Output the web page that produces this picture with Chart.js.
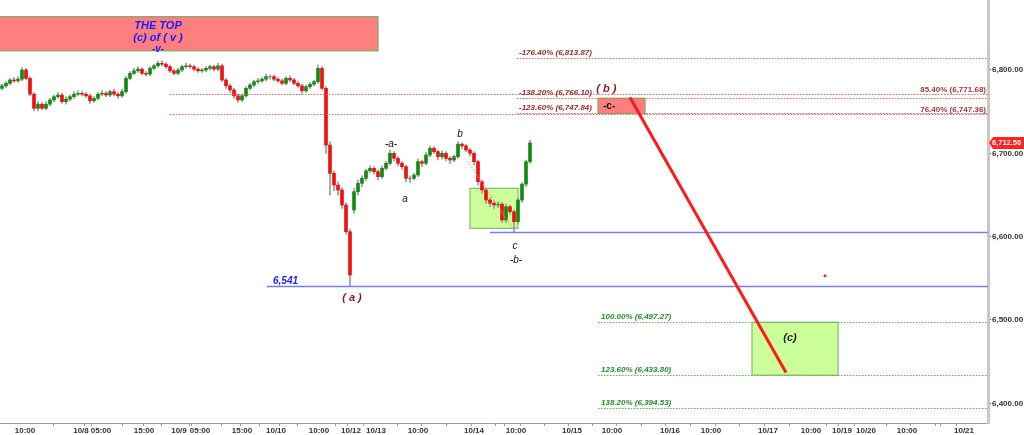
<!DOCTYPE html>
<html>
<head>
<meta charset="utf-8">
<script src="https://cdn.jsdelivr.net/npm/chart.js@4/dist/chart.umd.min.js"></script>
<style>
  html, body { margin: 0; padding: 0; background: #fff; }
  #wrap { width: 1024px; height: 435px; position: relative; }
</style>
</head>
<body>
<div id="wrap"><canvas id="chart"></canvas></div>
<script>
// candle data (one candle per slot)
const opens = [
  6778,6781,6784,6788,6787,6789,6800,6790,6771,6754,
  6759,6754,6759,6764,6768,6770,6762,6765,6768,6771,
  6772,6771,6769,6763,6766,6771,6772,6770,6774,6771,
  6769,6774,6790,6796,6799,6801,6796,6795,6802,6805,
  6808,6807,6804,6799,6796,6800,6804,6805,6804,6801,
  6799,6800,6802,6804,6801,6805,6788,6781,6776,6769,
  6764,6769,6778,6782,6786,6787,6789,6792,6792,6789,
  6787,6784,6790,6788,6784,6781,6775,6780,6783,6786,
  6802,6778,6710,6676,6662,6656,6638,6606,6632,6654,
  6664,6670,6679,6682,6678,6672,6682,6688,6700,6694,
  6688,6684,6670,6670,6674,6690,6688,6698,6706,6702,
  6696,6700,6694,6692,6696,6711,6709,6704,6700,6690,
  6666,6656,6644,6640,6638,6639,6620,6636,6630,6618,
  6644,6663,6690];
const highs = [
  6783,6786,6790,6791,6792,6803,6802,6792,6773,6762,
  6761,6762,6766,6770,6773,6772,6768,6770,6774,6775,
  6774,6773,6771,6768,6773,6775,6774,6776,6777,6773,
  6777,6792,6798,6802,6804,6803,6798,6804,6807,6811,
  6811,6809,6806,6801,6802,6806,6808,6807,6806,6803,
  6802,6804,6806,6806,6808,6807,6790,6783,6778,6771,
  6771,6780,6784,6788,6790,6791,6795,6794,6794,6791,
  6789,6792,6793,6790,6786,6783,6782,6785,6788,6806,
  6804,6780,6714,6679,6666,6659,6641,6609,6658,6668,
  6673,6681,6685,6684,6680,6685,6690,6704,6702,6696,
  6690,6686,6673,6676,6693,6692,6701,6709,6708,6704,
  6703,6702,6696,6698,6714,6713,6711,6706,6702,6692,
  6668,6658,6647,6643,6642,6641,6639,6638,6632,6646,
  6665,6692,6716];
const lows = [
  6776,6779,6782,6785,6785,6787,6788,6769,6751,6751,
  6752,6752,6757,6762,6766,6760,6759,6763,6766,6769,
  6769,6767,6760,6761,6764,6769,6768,6768,6769,6766,
  6767,6772,6788,6794,6797,6794,6793,6793,6800,6803,
  6805,6802,6797,6794,6794,6798,6802,6802,6799,6797,
  6797,6798,6800,6799,6799,6786,6778,6773,6766,6761,
  6762,6767,6776,6780,6784,6785,6787,6789,6787,6785,
  6782,6782,6786,6782,6779,6772,6773,6778,6781,6784,
  6776,6700,6650,6655,6650,6634,6603,6541,6628,6650,
  6660,6667,6677,6675,6668,6670,6680,6686,6691,6685,
  6681,6666,6665,6668,6672,6684,6686,6696,6700,6692,
  6693,6691,6688,6690,6694,6706,6702,6697,6686,6662,
  6652,6640,6636,6634,6635,6617,6617,6627,6606,6615,
  6641,6660,6688];
const closes = [
  6781,6784,6788,6787,6789,6800,6790,6771,6754,6759,
  6754,6759,6764,6768,6770,6762,6765,6768,6771,6772,
  6771,6769,6763,6766,6771,6772,6770,6774,6771,6769,
  6774,6790,6796,6799,6801,6796,6795,6802,6805,6808,
  6807,6804,6799,6796,6800,6804,6805,6804,6801,6799,
  6800,6802,6804,6801,6805,6788,6781,6776,6769,6764,
  6769,6778,6782,6786,6787,6789,6792,6792,6789,6787,
  6784,6790,6788,6784,6781,6775,6780,6783,6786,6802,
  6778,6710,6676,6662,6656,6638,6606,6554,6654,6664,
  6670,6679,6682,6678,6672,6682,6688,6700,6694,6688,
  6684,6670,6670,6674,6690,6688,6698,6706,6702,6696,
  6700,6694,6692,6696,6711,6709,6704,6700,6690,6666,
  6656,6644,6640,6638,6639,6620,6636,6630,6618,6644,
  6663,6690,6712.5];

// x axis labels and where they sit (in candle slots)
const xTickLabels = ['10:00','10/8','05:00','15:00','10/9','05:00','15:00','10/10','10:00','10/12','10/13','10:00',
  '10/14','10:00','10/15','10:00','10/16','10:00','10/17','10:00','10/19','10/20','10:00','10/21'];
const xTickSlots = [6.25,20.25,25.25,36,44.75,50,60.5,69,79.75,87.75,94,104.5,
  118.5,129,143,153,167.5,177.75,192,202.75,210.5,216.5,226.75,241];
const xMinorSlots = [11,31,40.5,55,65,74.5,99,111.5,124,136,148,160,172.5,185,197,222,233,237];
const yTicks = [6400, 6500, 6600, 6700, 6800];

// fib levels and other price levels
const fibRetraceLevels = [6771.68, 6747.36];
const fibRetraceNames = ['85.40%', '76.40%'];
const fibExtLevels = [6813.87, 6766.10, 6747.84];
const fibExtNames = ['-176.40%', '-138.20%', '-123.60%'];
const fibTargetLevels = [6497.27, 6433.80, 6394.53];
const fibTargetNames = ['100.00%', '123.60%', '138.20%'];
const supportLevels = [6541, 6605];
const lastPrice = 6712.5;

function fmt(v, d) {
    return v.toLocaleString('en-US', { minimumFractionDigits: d, maximumFractionDigits: d });
}

const FONT = '"Liberation Sans", Arial, sans-serif';

const bodyData = closes.map((c, i) => ({ x: i + 0.5, y: [opens[i], c] }));
const wickData = closes.map((c, i) => ({ x: i + 0.5, y: [lows[i], highs[i]] }));
const bodyColors = closes.map((c, i) => c >= opens[i] ? '#138a13' : '#f01010');

// draws the boxes, levels and wave labels
const annotations = {
    id: 'annotations',
    beforeDatasetsDraw(chart) {
        const ctx = chart.ctx, x = chart.scales.x, y = chart.scales.y;
        const box = (x1, x2, v1, v2, fill, stroke) => {
            const l = x.getPixelForValue(x1), r = x.getPixelForValue(x2);
            const t = y.getPixelForValue(v1), b = y.getPixelForValue(v2);
            ctx.fillStyle = fill;
            ctx.fillRect(l, t, r - l, b - t);
            ctx.strokeStyle = stroke;
            ctx.lineWidth = 1.2;
            ctx.strokeRect(l, t, r - l, b - t);
        };
        ctx.save();
        // the top
        box(-1, 94.5, 6864, 6823, '#ff7f7f', '#7faa5f');
        // green zones
        box(117.5, 129.5, 6658, 6610, '#ccff99', '#8ab86a');
        box(188, 209.5, fibTargetLevels[0], fibTargetLevels[1], '#ccff99', '#8ab86a');
        // -c- box
        box(149.5, 161.25, fibExtLevels[1], fibExtLevels[2], '#ff7f7f', '#7faa5f');
        ctx.restore();
    },
    afterDatasetsDraw(chart) {
        const ctx = chart.ctx, x = chart.scales.x, y = chart.scales.y;
        const right = chart.chartArea.right;
        const hline = (from, v, color, dash, w) => {
            const py = Math.round(y.getPixelForValue(v)) + 0.5;
            ctx.beginPath();
            ctx.setLineDash(dash);
            ctx.strokeStyle = color;
            ctx.lineWidth = w;
            ctx.moveTo(x.getPixelForValue(from), py);
            ctx.lineTo(right, py);
            ctx.stroke();
            ctx.setLineDash([]);
        };
        const text = (s, xv, v, color, font, align) => {
            ctx.font = font;
            ctx.fillStyle = color;
            ctx.textAlign = align || 'center';
            ctx.textBaseline = 'middle';
            ctx.fillText(s, x.getPixelForValue(xv), y.getPixelForValue(v));
        };
        ctx.save();

        // red fib lines
        fibRetraceLevels.forEach((v, i) => {
            hline(42.5, v, '#d46a6a', [1.5, 1.5], 1);
            ctx.font = 'bold 8px ' + FONT;
            ctx.fillStyle = '#a03a3a';
            ctx.textAlign = 'right';
            ctx.textBaseline = 'alphabetic';
            ctx.fillText(fibRetraceNames[i] + ' (' + fmt(v, 2) + ')', right - 2, y.getPixelForValue(v) - 2);
        });
        fibExtLevels.forEach((v, i) => {
            hline(129.25, v, '#d46a6a', [1.5, 1.5], 1);
            ctx.font = 'italic bold 8px ' + FONT;
            ctx.fillStyle = '#9a2a2a';
            ctx.textAlign = 'left';
            ctx.textBaseline = 'alphabetic';
            ctx.fillText(fibExtNames[i] + ' (' + fmt(v, 2) + ')', x.getPixelForValue(129.75), y.getPixelForValue(v) - 3);
        });
        // green fib lines
        fibTargetLevels.forEach((v, i) => {
            hline(149.5, v, '#5bb05b', [1.5, 1.5], 1);
            ctx.font = 'italic bold 8px ' + FONT;
            ctx.fillStyle = '#2a8a2a';
            ctx.textAlign = 'left';
            ctx.textBaseline = 'alphabetic';
            ctx.fillText(fibTargetNames[i] + ' (' + fmt(v, 2) + ')', x.getPixelForValue(150.25), y.getPixelForValue(v) - 3);
        });
        // blue support lines
        hline(66.75, supportLevels[0], '#7c7cf2', [], 1.3);
        hline(122.5, supportLevels[1], '#7c7cf2', [], 1.3);
        ctx.font = 'italic bold 10px ' + FONT;
        ctx.fillStyle = '#2222ee';
        ctx.textAlign = 'left';
        ctx.textBaseline = 'alphabetic';
        ctx.fillText(fmt(supportLevels[0], 0), x.getPixelForValue(68.25), y.getPixelForValue(supportLevels[0]) - 2);

        // dotted trend inside first green box
        ctx.beginPath();
        ctx.setLineDash([1.5, 1.5]);
        ctx.strokeStyle = '#e09090';
        ctx.lineWidth = 1;
        ctx.moveTo(x.getPixelForValue(117), y.getPixelForValue(6690));
        ctx.lineTo(x.getPixelForValue(128.75), y.getPixelForValue(6606));
        ctx.stroke();
        ctx.setLineDash([]);

        // projected leg down
        ctx.beginPath();
        ctx.strokeStyle = '#ff1a1a';
        ctx.lineWidth = 3;
        ctx.moveTo(x.getPixelForValue(157.5), y.getPixelForValue(6767));
        ctx.lineTo(x.getPixelForValue(196.5), y.getPixelForValue(6437));
        ctx.stroke();

        // small red dot
        ctx.beginPath();
        ctx.fillStyle = '#ff2020';
        ctx.arc(x.getPixelForValue(206.25), y.getPixelForValue(6553), 1.5, 0, Math.PI * 2);
        ctx.fill();

        // labels
        const wave = 'italic bold 11px ' + FONT;
        text('THE TOP', 39.5, 6853, '#1a1aff', 'italic bold 11px ' + FONT);
        text('(c) of ( v )', 39.5, 6838.5, '#1a1aff', 'italic bold 11px ' + FONT);
        text('-v-', 39.5, 6825, '#1a1aff', 'italic bold 10px ' + FONT);
        text('( a )', 88, 6526, '#8b1a1a', wave);
        text('-a-', 97.75, 6711, '#111', 'italic 10px ' + FONT);
        text('a', 101.25, 6645, '#111', 'italic 10px ' + FONT);
        text('b', 115, 6723, '#111', 'italic 10px ' + FONT);
        text('c', 128.75, 6588, '#111', 'italic 10px ' + FONT);
        text('-b-', 129, 6572, '#111', 'italic 10px ' + FONT);
        text('( b )', 151.6, 6777, '#8b1a1a', wave);
        text('-c-', 150.75, 6757, '#111', 'bold 10px ' + FONT, 'left');
        text('(c)', 197.5, 6478, '#222', wave);
        ctx.restore();
    },
    afterDraw(chart) {
        // last price tag on the axis
        const ctx = chart.ctx, y = chart.scales.y;
        const py = y.getPixelForValue(lastPrice);
        const l = chart.chartArea.right + 1;
        ctx.save();
        ctx.fillStyle = '#ff2424';
        ctx.beginPath();
        ctx.moveTo(l, py);
        ctx.lineTo(l + 4, py - 6);
        ctx.lineTo(1024, py - 6);
        ctx.lineTo(1024, py + 6);
        ctx.lineTo(l + 4, py + 6);
        ctx.closePath();
        ctx.fill();
        ctx.fillStyle = '#fff';
        ctx.font = 'bold 7.5px ' + FONT;
        ctx.textAlign = 'left';
        ctx.textBaseline = 'middle';
        ctx.fillText(fmt(lastPrice, 2), l + 3, py + 0.5);
        ctx.restore();
    }
};

new Chart(document.getElementById('chart'), {
    type: 'bar',
    data: {
        datasets: [{
            label: 'body',
            data: bodyData,
            backgroundColor: bodyColors,
            borderWidth: 0,
            barThickness: 3,
            grouped: false
        }, {
            label: 'wick',
            data: wickData,
            backgroundColor: '#9a9a9a',
            borderWidth: 0,
            barThickness: 1,
            grouped: false
        }]
    },
    options: {
        responsive: true,
        maintainAspectRatio: false,
        animation: false,
        layout: { padding: 0 },
        plugins: {
            legend: { display: false },
            tooltip: { enabled: false }
        },
        scales: {
            x: {
                type: 'linear',
                min: 0,
                max: 247,
                offset: false,
                afterBuildTicks: function (s) {
                    s.ticks = xTickSlots.concat(xMinorSlots).map(v => ({ value: v }));
                },
                afterFit: function (s) {
                    s.height = 12;
                    s.paddingLeft = 0;
                    s.paddingRight = 0;
                },
                grid: { drawOnChartArea: false, drawTicks: true, tickLength: 3, color: '#999' },
                border: { color: '#999', width: 1 },
                ticks: {
                    autoSkip: false,
                    maxRotation: 0,
                    padding: 0,
                    color: '#333',
                    font: { family: FONT, size: 8, weight: 'bold' },
                    callback: function (v) {
                        const i = xTickSlots.indexOf(v);
                        return i >= 0 ? xTickLabels[i] : '';
                    }
                }
            },
            y: {
                position: 'right',
                min: 6376.4,
                max: 6884,
                afterBuildTicks: function (s) {
                    s.ticks = yTicks.map(v => ({ value: v }));
                },
                afterFit: function (s) {
                    s.width = 36;
                    s.paddingTop = 0;
                    s.paddingBottom = 0;
                },
                grid: { drawOnChartArea: false, drawTicks: true, tickLength: 3, color: '#555' },
                border: { color: '#c8c8c8', width: 3 },
                ticks: {
                    padding: 1,
                    color: '#333',
                    font: { family: FONT, size: 8, weight: 'bold' },
                    callback: function (v) { return fmt(v, 2); }
                }
            }
        }
    },
    plugins: [annotations]
});
</script>
</body>
</html>
